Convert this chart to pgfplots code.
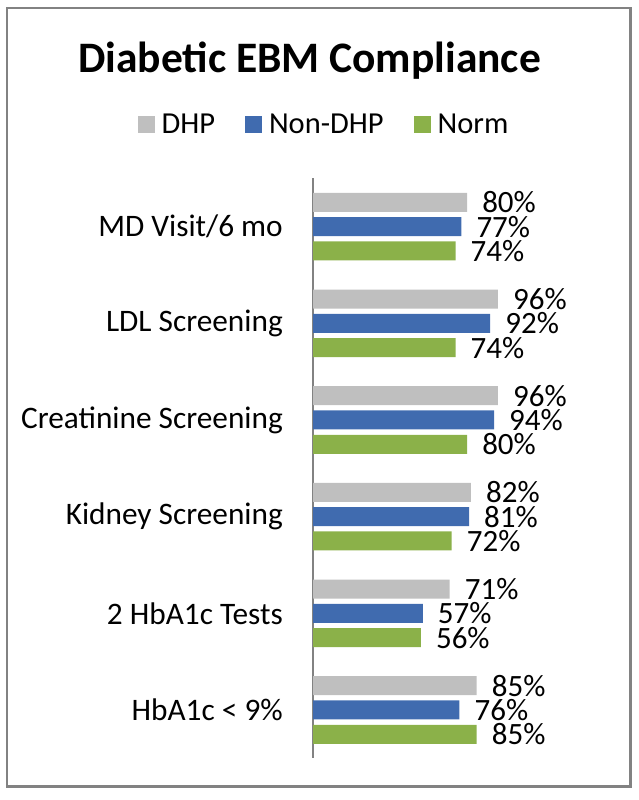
\documentclass[border=0pt]{standalone}
\usepackage{fontspec}
\setmainfont{Carlito}
\usepackage{pgfplots}
\pgfplotsset{compat=1.18}
\definecolor{dhp}{RGB}{191,191,191}
\definecolor{nondhp}{RGB}{64,107,175}
\definecolor{norm}{RGB}{139,177,73}
\definecolor{framegray}{RGB}{130,130,130}
\begin{document}
\begin{tikzpicture}
\path[use as bounding box] (0pt,0pt) rectangle (638pt,-800pt);
\draw[framegray, line width=2.2pt] (6.7pt,-8.3pt) rectangle (630.5pt,-786.5pt);
\node[anchor=base, font=\fontsize{43.5}{43.5}\selectfont\bfseries, inner sep=0pt] at (309.5pt,-72pt) {Diabetic EBM Compliance};
\begin{axis}[
  at={(313pt,-758.3pt)}, anchor=south west,
  width=192.6pt, height=580pt, scale only axis,
  xmin=0, xmax=100, ymin=-0.5, ymax=5.5, y dir=reverse,
  xbar, bar width=19pt,
  axis x line=none, axis y line*=left,
  y axis line style={framegray, line width=1.5pt},
  ytick={0,1,2,3,4,5},
  yticklabels={MD Visit/6 mo, LDL Screening, Creatinine Screening, Kidney Screening, 2 HbA1c Tests, HbA1c < 9\%},
  major tick length=0pt,
  yticklabel style={font=\fontsize{31.3}{31.3}\selectfont, inner sep=0pt},
  yticklabel shift=30pt,
  point meta=x,
  nodes near coords={\pgfmathprintnumber{\pgfplotspointmeta}\%},
  nodes near coords style={font=\fontsize{31}{31}\selectfont, anchor=west, inner sep=0pt, xshift=15pt, text=black},
  /pgf/number format/assume math mode=true,
  clip=false,
  legend columns=3,
  legend image code/.code={\fill[#1] (0pt,-8.5pt) rectangle (17pt,8.5pt);},
  legend style={at={(axis description cs:0.057,1.0936)}, anchor=center, draw=none, fill=none,
    font=\fontsize{30.5}{30.5}\selectfont,
    /tikz/every odd column/.append style={column sep=5pt},
    /tikz/every even column/.append style={column sep=28pt}},
]
\addplot[draw=none, fill=dhp, bar shift=24.3pt] coordinates {(80,0) (96,1) (96,2) (82,3) (71,4) (85,5)};
\addplot[draw=none, fill=nondhp, bar shift=0pt] coordinates {(77,0) (92,1) (94,2) (81,3) (57,4) (76,5)};
\addplot[draw=none, fill=norm, bar shift=-24.3pt] coordinates {(74,0) (74,1) (80,2) (72,3) (56,4) (85,5)};
\legend{DHP, Non-DHP, Norm}
\end{axis}
\end{tikzpicture}
\end{document}
